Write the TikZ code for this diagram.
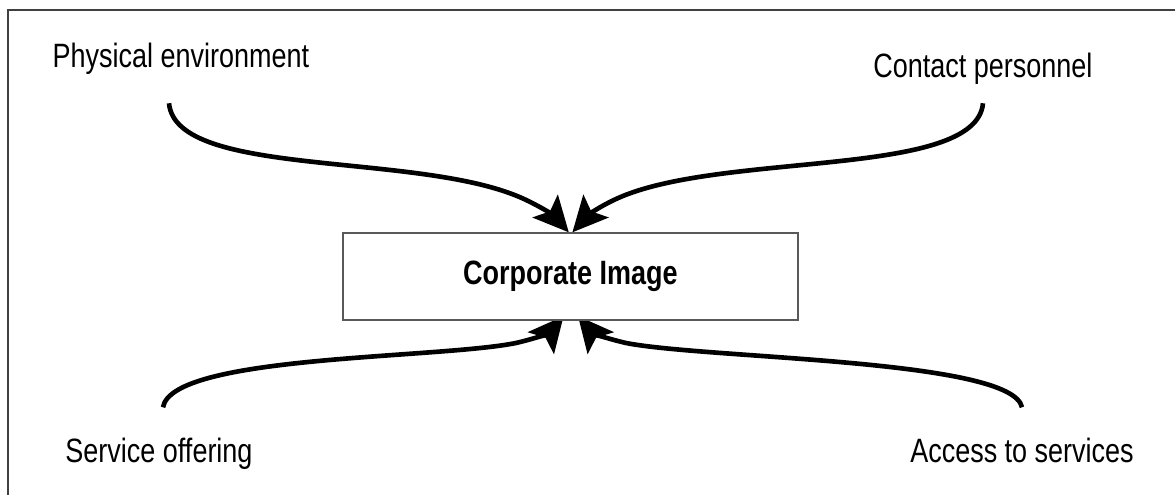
\documentclass[tikz,border=0pt]{standalone}
\usepackage{fontspec}
\setmainfont{Liberation Sans}[FakeStretch=0.8]
\usetikzlibrary{arrows.meta, positioning, backgrounds}

\begin{document}
\begin{tikzpicture}[
    factor/.style={font=\fontsize{24}{28}\selectfont, inner sep=0pt, anchor=base},
    core/.style={rectangle, draw=black!65, fill=white, line width=1.1pt, minimum width=11.375cm, minimum height=2.175cm, font=\fontsize{24}{28}\selectfont\bfseries},
    feed/.style={line width=3.3pt, -{Stealth[length=25pt, width=24pt, inset=5pt]}},
    >=Stealth
]
\useasboundingbox (0,0) rectangle (29.375,12.375);

% Frame
\draw[black!75, line width=1.2pt] (0.2,0) -- (0.2,12.125) -- (29.375,12.125);

% Nodes
\node[core] (image) at (14.26,5.46) {Corporate Image};
\node[factor] (physical) at (4.525,10.675) {Physical environment};
\node[factor] (contact) at (24.575,10.425) {Contact personnel};
\node[factor] (offering) at (3.975,0.825) {Service offering};
\node[factor] (access) at (25.55,0.825) {Access to services};

\begin{scope}[on background layer]
% Arrows from above
\draw[feed] ([shift={(-0.3,-0.7)}]physical.south) .. controls (4.4,7.9) and (10.5,8.6) .. (13.1,7.4) to[out=-25, in=132] ([xshift=-0.04cm]image.north);
\draw[feed] ([shift={(0,-0.45)}]contact.south) .. controls (24.4,7.9) and (18.0,8.6) .. (15.4,7.4) to[out=-155, in=48] ([xshift=0.05cm]image.north);

% Arrows from below
\draw[feed] ([shift={(0.1,0.75)}]offering.north) .. controls (4.3,3.5) and (10.9,3.4) .. (12.9,3.8) to[out=13, in=-130] ([shift={(-0.17,0.12)}]image.south);
\draw[feed] ([shift={(0,0.75)}]access.north) .. controls (25.3,3.4) and (17.7,3.4) .. (15.65,3.8) to[out=167, in=-50] ([shift={(0.19,0.12)}]image.south);
\end{scope}

\end{tikzpicture}
\end{document}
